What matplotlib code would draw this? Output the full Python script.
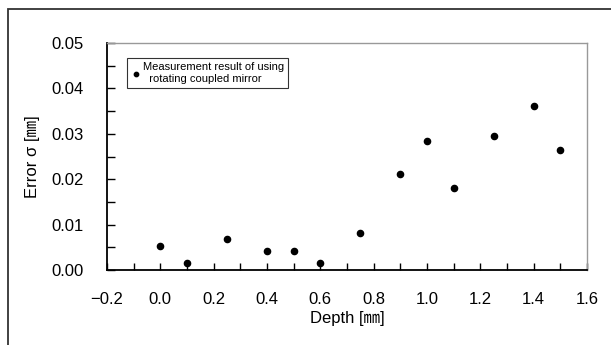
import matplotlib.pyplot as plt
from matplotlib.patches import Rectangle
from matplotlib.ticker import MultipleLocator

plt.rcParams['font.family'] = ['Liberation Sans', 'Noto Sans CJK JP', 'DejaVu Sans']

depth = [0.0, 0.1, 0.25, 0.4, 0.5, 0.6, 0.75, 0.9, 1.0, 1.1, 1.25, 1.4, 1.5]
error = [0.0053, 0.0015, 0.0068, 0.0042, 0.0042, 0.0015, 0.0081,
         0.0211, 0.0284, 0.0181, 0.0295, 0.0361, 0.0264]
legend_label = "Measurement result of using\n  rotating coupled mirror"

fig = plt.figure(figsize=(6.11, 3.45), dpi=100)
fig.patches.append(Rectangle((8 / 611, -0.1), 1.2, (345 - 9) / 345 + 0.1,
                             transform=fig.transFigure, fill=False,
                             edgecolor='#333333', linewidth=1.3))

ax = fig.add_axes([107 / 611, 1 - 270 / 345, 480 / 611, 227 / 345])
ax.scatter(depth, error, s=20, color='black', label=legend_label, zorder=3)

ax.set_xlim(-0.2, 1.6)
ax.set_ylim(0, 0.05)
ax.xaxis.set_major_locator(MultipleLocator(0.2))
ax.xaxis.set_minor_locator(MultipleLocator(0.1))
ax.yaxis.set_major_locator(MultipleLocator(0.01))
ax.yaxis.set_minor_locator(MultipleLocator(0.005))
ax.xaxis.set_major_formatter(plt.FuncFormatter(lambda v, p: f"{v:.1f}".replace('-', '\u2212')))
ax.yaxis.set_major_formatter(plt.FuncFormatter(lambda v, p: f"{v:.2f}"))

ax.tick_params(axis='x', which='both', direction='in', length=5, width=1, pad=16, labelsize=12)
ax.tick_params(axis='y', which='both', direction='in', length=6, width=1, pad=17, labelsize=12)

for s in ['left', 'bottom']:
    ax.spines[s].set_color('black')
    ax.spines[s].set_linewidth(1.3)
for s in ['top', 'right']:
    ax.spines[s].set_color('#999999')
    ax.spines[s].set_linewidth(1)

ax.set_xlabel("Depth [㎜]", fontsize=12, labelpad=3)
ax.set_ylabel("Error σ [㎜]", fontsize=12, labelpad=8)

leg = ax.legend(loc='upper left', bbox_to_anchor=(0.042, 0.934), fontsize=8,
                frameon=True, fancybox=False, borderpad=0.4, handletextpad=0.2,
                handlelength=0.8, markerscale=0.7, borderaxespad=0)
leg.get_frame().set_edgecolor('black')
leg.get_frame().set_linewidth(0.8)

fig.savefig("out.png", dpi=100)
